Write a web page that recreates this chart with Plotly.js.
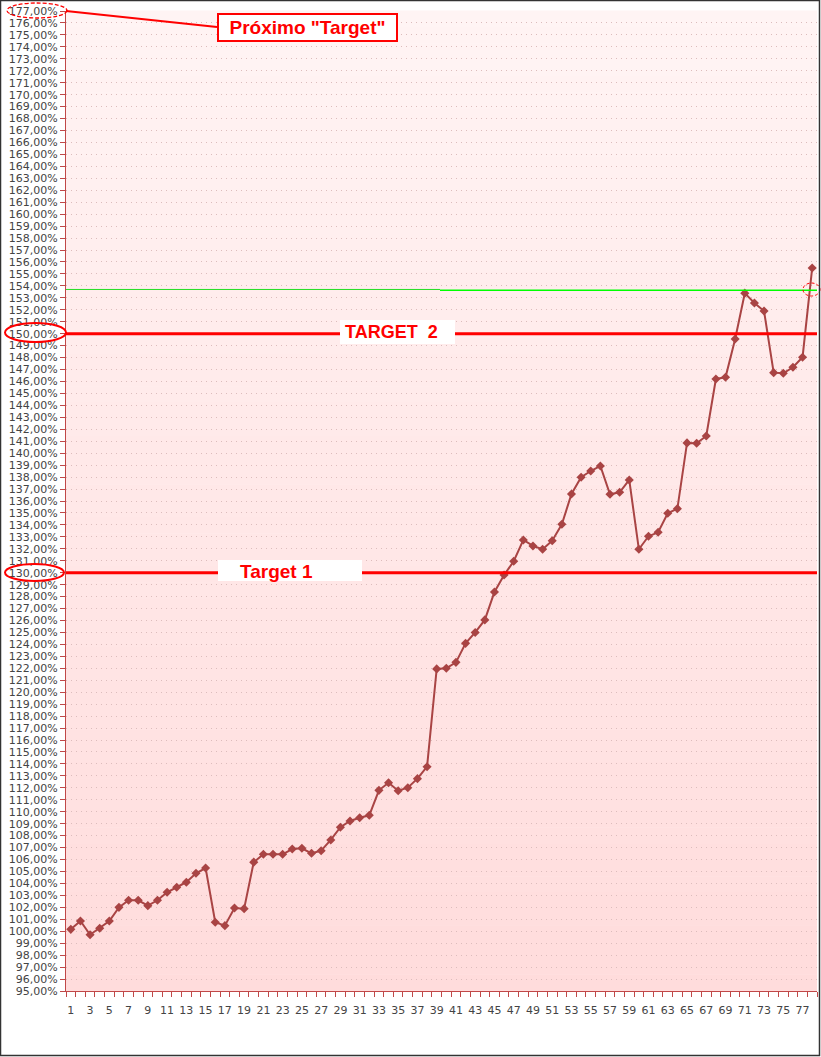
<!DOCTYPE html>
<html>
<head>
<meta charset="utf-8">
<script src="https://cdn.plot.ly/plotly-3.0.1.min.js"></script>
<style>
html,body{margin:0;padding:0;background:#fff;}
#chart{width:821px;height:1057px;}
</style>
</head>
<body>
<div id="chart"></div>
<script>
// ---- data ----
const periods = Array.from({length: 78}, (_, i) => i + 1);
const values = [
  100.16, 100.86, 99.71, 100.25, 100.86, 102.00, 102.59, 102.59, 102.14, 102.59,
  103.26, 103.68, 104.10, 104.85, 105.29, 100.75, 100.47, 101.95, 101.89, 105.78,
  106.44, 106.44, 106.44, 106.88, 106.94, 106.52, 106.74, 107.64, 108.70, 109.23,
  109.50, 109.70, 111.79, 112.43, 111.76, 112.01, 112.77, 113.77, 121.95, 122.00,
  122.50, 124.09, 125.00, 126.05, 128.39, 129.81, 130.96, 132.74, 132.24, 131.96,
  132.68, 134.05, 136.59, 137.99, 138.51, 138.93, 136.56, 136.73, 137.76, 131.96,
  133.05, 133.38, 134.97, 135.36, 140.86, 140.83, 141.44, 146.21, 146.35, 149.56,
  153.39, 152.57, 151.90, 146.74, 146.69, 147.19, 148.03, 155.50
];
const xTickVals = periods.filter(p => p % 2 === 1 && p <= 77);
const target1 = 130;
const target2 = 150;
const nextLevel = 153.7;
const nextLevelRight = 153.64;
const yMin = 95, yMax = 177;
const labelNext = 'Próximo "Target"';
const labelT2 = 'TARGET  2';
const labelT1 = 'Target 1';

// ---- geometry helpers (pixel -> paper) ----
const L = 66, R = 817, T = 11, B = 991;
const PX = x => (x - L) / (R - L);
const PY = y => (B - y) / (B - T);

const shapes = [];
// background gradient
const N = 60;
const cTop = [255, 244, 244], cBot = [255, 220, 220];
for (let i = 0; i < N; i++) {
  const f = (i + 0.5) / N;
  const c = cTop.map((v, k) => Math.round(v + (cBot[k] - v) * f));
  shapes.push({type: 'rect', xref: 'paper', yref: 'paper', x0: 0, x1: 1,
    y0: 1 - (i + 1) / N, y1: 1 - i / N + 0.0005, layer: 'below',
    fillcolor: `rgb(${c[0]},${c[1]},${c[2]})`, line: {width: 0}});
}
// green line (two segments)
shapes.push({type: 'line', xref: 'paper', yref: 'y', x0: 0, x1: PX(440), y0: nextLevel, y1: nextLevel,
  line: {color: '#22dd22', width: 1}, layer: 'above'});
shapes.push({type: 'line', xref: 'paper', yref: 'y', x0: PX(440), x1: 1, y0: nextLevelRight, y1: nextLevelRight,
  line: {color: '#00ff00', width: 1.5}, layer: 'above'});
// target lines
[target1, target2].forEach(t => shapes.push({type: 'line', xref: 'paper', yref: 'y', x0: 0, x1: 1,
  y0: t, y1: t, line: {color: '#ff0000', width: 3}, layer: 'above'}));
// white label boxes
shapes.push({type: 'rect', xref: 'paper', yref: 'paper', x0: PX(340), x1: PX(455), y0: PY(344), y1: PY(320),
  fillcolor: '#ffffff', line: {width: 0}, layer: 'above'});
shapes.push({type: 'rect', xref: 'paper', yref: 'paper', x0: PX(218), x1: PX(362), y0: PY(581), y1: PY(560),
  fillcolor: '#ffffff', line: {width: 0}, layer: 'above'});
// ellipses
shapes.push({type: 'circle', xref: 'paper', yref: 'paper', x0: PX(7), x1: PX(67), y0: PY(18), y1: PY(3),
  line: {color: '#ff0000', width: 1.3, dash: '4px,2px'}, layer: 'above'});
shapes.push({type: 'circle', xref: 'paper', yref: 'paper', x0: PX(5), x1: PX(66), y0: PY(342), y1: PY(323),
  line: {color: '#ff0000', width: 2}, layer: 'above'});
shapes.push({type: 'circle', xref: 'paper', yref: 'paper', x0: PX(5), x1: PX(64), y0: PY(581), y1: PY(564),
  line: {color: '#ff0000', width: 2}, layer: 'above'});
shapes.push({type: 'circle', xref: 'paper', yref: 'paper', x0: PX(803), x1: PX(820), y0: PY(296), y1: PY(283),
  line: {color: '#ff0000', width: 1, dash: '3px,2px'}, layer: 'above'});
// pointer line
shapes.push({type: 'line', xref: 'paper', yref: 'paper', x0: PX(66), y0: PY(11), x1: PX(217), y1: PY(27),
  line: {color: '#ff0000', width: 2}, layer: 'above'});
// frame
shapes.push({type: 'rect', xref: 'paper', yref: 'paper', x0: PX(0.5), x1: PX(819.5), y0: PY(1055.5), y1: PY(0.5),
  line: {color: '#333333', width: 1.5}, layer: 'above'});

const annotations = [
  {xref: 'paper', yref: 'paper', x: PX(307.5), y: PY(27.5), xanchor: 'center', yanchor: 'middle',
   text: labelNext, showarrow: false, bgcolor: '#ffffff', bordercolor: '#ff0000', borderwidth: 2,
   width: 177, height: 25, borderpad: 0,
   font: {family: 'Liberation Sans, Arial, sans-serif', size: 19, color: '#ff0000', weight: 'bold'}},
  {xref: 'paper', yref: 'paper', x: PX(343), y: PY(332), xanchor: 'left', yanchor: 'middle',
   text: labelT2, showarrow: false,
   font: {family: 'Liberation Sans, Arial, sans-serif', size: 18, color: '#ff0000', weight: 'bold'}},
  {xref: 'paper', yref: 'paper', x: PX(238), y: PY(571), xanchor: 'left', yanchor: 'middle',
   text: labelT1, showarrow: false,
   font: {family: 'Liberation Sans, Arial, sans-serif', size: 19, color: '#ff0000', weight: 'bold'}}
];

const trace = {
  x: periods, y: values, type: 'scatter', mode: 'lines+markers',
  line: {color: '#a94444', width: 2},
  marker: {symbol: 'diamond', size: 7, color: '#a94444'},
  hoverinfo: 'x+y'
};

const axisFont = {family: 'DejaVu Sans, Verdana, sans-serif', size: 11, color: '#444444'};
const layout = {
  width: 821, height: 1057,
  margin: {l: L, r: 821 - R, t: T, b: 1057 - B, pad: 0},
  paper_bgcolor: '#ffffff',
  plot_bgcolor: 'rgba(0,0,0,0)',
  separators: ',.',
  showlegend: false,
  xaxis: {
    range: [0.5, 78.5], tickmode: 'array', tickvals: xTickVals,
    ticks: 'outside', ticklen: 9, tickcolor: 'rgba(0,0,0,0)',
    showgrid: false, zeroline: false, showline: true, linecolor: '#c04848', linewidth: 1,
    tickfont: axisFont,
    minor: {tickmode: 'array', tickvals: periods.map(p => p - 0.5).concat([78.5]),
      ticks: 'outside', ticklen: 5, tickcolor: '#c04848', showgrid: false}
  },
  yaxis: {
    range: [yMin, yMax], tickmode: 'linear', tick0: yMin, dtick: 1,
    tickformat: '.2f', ticksuffix: '%',
    ticks: 'outside', ticklen: 5, tickcolor: '#c04848',
    showgrid: true, gridcolor: '#dcbcbc', griddash: '1px,4px', gridwidth: 1,
    zeroline: false, showline: true, linecolor: '#c04848', linewidth: 1,
    tickfont: axisFont
  },
  shapes: shapes,
  annotations: annotations
};

Plotly.newPlot('chart', [trace], layout, {displayModeBar: false, staticPlot: true});
</script>
</body>
</html>
